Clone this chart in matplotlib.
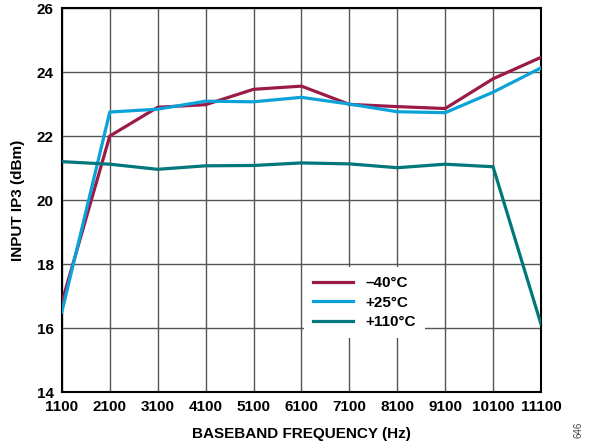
import matplotlib
matplotlib.use("Agg")
import matplotlib.pyplot as plt

freq = [1100, 2100, 3100, 4100, 5100, 6100, 7100, 8100, 9100, 10100, 11100]
ip3_m40 = [16.8, 22.0, 22.9, 22.98, 23.46, 23.56, 22.99, 22.92, 22.86, 23.79, 24.46]
ip3_p25 = [16.5, 22.75, 22.84, 23.09, 23.07, 23.21, 23.0, 22.76, 22.73, 23.37, 24.13]
ip3_p110 = [21.2, 21.12, 20.96, 21.07, 21.08, 21.16, 21.13, 21.01, 21.12, 21.04, 16.12]
labels = ["\u201340\u00b0C", "+25\u00b0C", "+110\u00b0C"]
colors = ["#9b1b48", "#0aa3d9", "#00777a"]

plt.rcParams["font.family"] = ["Liberation Sans", "DejaVu Sans"]
plt.rcParams["font.weight"] = "bold"

fig = plt.figure(figsize=(5.89, 4.48), dpi=100)
ax = fig.add_axes([0.105, 0.125, 0.8135, 0.857])

for y, lab, c in zip([ip3_m40, ip3_p25, ip3_p110], labels, colors):
    ax.plot(freq, y, color=c, lw=2.3, label=lab, zorder=3)

ax.set_xlim(1100, 11100)
ax.set_ylim(14, 26)
ax.set_xticks(freq)
ax.set_yticks(range(14, 27, 2))
ax.grid(True, color="#555555", lw=1.0)
ax.set_axisbelow(True)
ax.tick_params(length=0, labelsize=11)
ax.tick_params(axis="x", pad=6)
ax.tick_params(axis="y", pad=6)
for lbl in ax.get_xticklabels() + ax.get_yticklabels():
    lbl.set_fontweight("bold")
for s in ax.spines.values():
    s.set_linewidth(1.5)
    s.set_color("black")

ax.set_xlabel("BASEBAND FREQUENCY (Hz)", fontsize=11, fontweight="bold", labelpad=9)
ax.set_ylabel("INPUT IP3 (dBm)", fontsize=11, fontweight="bold", labelpad=8)

leg = ax.legend(loc="upper left", bbox_to_anchor=(0.49, 0.345), frameon=True,
                fancybox=False, edgecolor="none", facecolor="white", framealpha=1,
                prop={"size": 11, "weight": "bold"}, handlelength=2.6,
                labelspacing=0.35, borderpad=0.6)
leg.set_zorder(5)

fig.text(0.99, 0.04, "646", rotation=90, fontsize=7, color="#444444",
         ha="right", va="center", fontweight="normal")

fig.savefig("out.png", dpi=100)
